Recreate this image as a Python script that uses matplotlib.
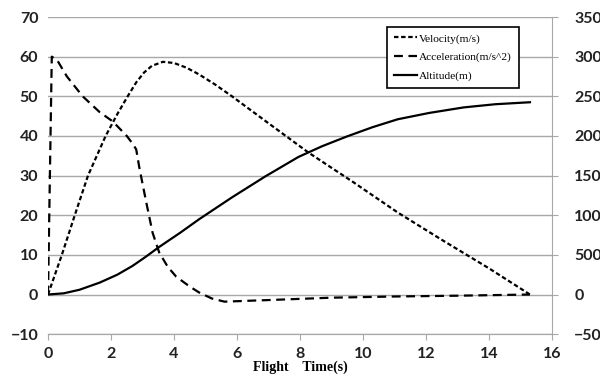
import matplotlib.pyplot as plt

# velocity (m/s), left axis
vel_t = [0, 0.44, 0.85, 1.27, 1.83, 2.2, 2.53, 2.8, 3.05, 3.3, 3.65, 4.0, 4.4, 4.8, 5.3, 5.84,
         7.0, 8.27, 9.7, 11.1, 12.5, 14.0, 15.3]
vel = [0, 10, 20, 30, 40, 45.5, 50, 53.5, 56, 57.7, 58.7, 58.4, 57.2, 55.5, 53, 50,
       43.2, 35.8, 28.3, 20.7, 13.8, 6.6, 0]

# acceleration (m/s^2), left axis
acc_t = [0, 0.12, 0.3, 0.6, 1.1, 1.64, 2.05, 2.5, 2.7, 2.8, 2.9, 3.1, 3.32, 3.53, 3.8,
         4.07, 4.5, 4.8, 5.2, 5.6, 7.0, 9.0, 11.0, 13.0, 15.3]
acc = [0, 60, 59, 55, 50, 46, 43.7, 40, 37.9, 36.6, 32, 24, 15.6, 10.6, 7,
       4.5, 2, 0.5, -1, -1.8, -1.4, -0.8, -0.5, -0.3, 0]

# altitude (m), right axis
alt_t = [0, 0.5, 1.0, 1.64, 2.2, 2.68, 3.1, 3.53, 4.2, 4.8, 5.84, 6.9, 7.95, 8.7, 9.5,
         10.3, 11.1, 12.1, 13.2, 14.2, 15.3]
alt = [0, 15, 60, 150, 250, 360, 475, 600, 780, 950, 1225, 1490, 1735, 1870, 1995,
       2110, 2210, 2290, 2360, 2400, 2425]

x_ticks = [0, 2, 4, 6, 8, 10, 12, 14, 16]
left_ticks = [-10, 0, 10, 20, 30, 40, 50, 60, 70]
right_ticks = [-500, 0, 500, 1000, 1500, 2000, 2500, 3000, 3500]

fig = plt.figure(figsize=(6, 3.78), dpi=100)
ax = fig.add_axes([0.08, 0.116, 0.84, 0.839])
ax2 = ax.twinx()

l1, = ax.plot(vel_t, vel, color='black', lw=1.6, linestyle=(0, (2, 1.2)),
              label='Velocity(m/s)')
l2, = ax.plot(acc_t, acc, color='black', lw=1.6, linestyle=(0, (4, 2.5)),
              label='Acceleration(m/s^2)')
l3, = ax2.plot(alt_t, alt, color='black', lw=1.6, label='Altitude(m)')

ax.set_xlim(0, 16)
ax.set_ylim(-10, 70)
ax2.set_ylim(-500, 3500)
ax.set_xticks(x_ticks)
ax.set_yticks(left_ticks)
ax2.set_yticks(right_ticks)
ax.grid(axis='y', color='#a8a8a8', lw=1)
ax.set_axisbelow(True)

for a in (ax, ax2):
    a.spines['top'].set_visible(False)
    a.spines['left'].set_visible(False)
    a.spines['bottom'].set_color('#a8a8a8')
    a.spines['right'].set_color('#a8a8a8')
ax.spines['right'].set_visible(False)

ax.tick_params(axis='y', length=0, pad=7)
ax.tick_params(axis='x', length=4, color='#a8a8a8', pad=5)
ax2.tick_params(axis='y', length=4, color='#a8a8a8', pad=12)
for lab in ax.get_xticklabels() + ax.get_yticklabels() + ax2.get_yticklabels():
    lab.set_fontfamily('Lato')
    lab.set_fontweight('bold')
    lab.set_fontsize(11.5)
    lab.set_color('#222222')

leg = ax2.legend(handles=[l1, l2, l3], loc='upper left', bbox_to_anchor=(0.662, 0.988),
                 prop={'family': 'Liberation Serif', 'size': 8.2},
                 handlelength=2.0, handletextpad=0.2, labelspacing=0.75,
                 borderpad=0.6, fancybox=False, framealpha=1)
leg.get_frame().set_edgecolor('black')
leg.get_frame().set_linewidth(1.2)

fig.text(0.5, 0.028, 'Flight    Time(s)', ha='center', va='center',
         fontfamily='Liberation Serif', fontweight='bold', fontsize=10)

fig.savefig('out.png', dpi=100)
